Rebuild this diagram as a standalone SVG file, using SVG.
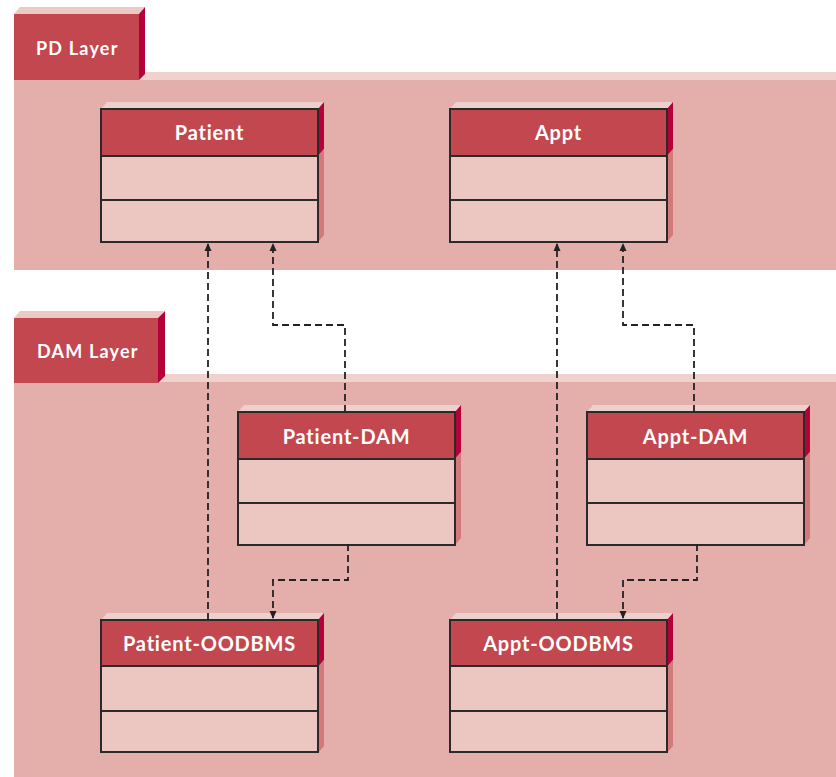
<svg xmlns="http://www.w3.org/2000/svg" width="836" height="777" viewBox="0 0 836 777">
  <defs>
    <style>
      .band { fill: #e4afab; }
      .bandTop { fill: #efd2ce; }
      .tab { fill: #c2474f; }
      .tabSide { fill: #b5003a; }
      .tabTop { fill: #edc9c5; }
      .hdr { fill: #c2474f; stroke: #2a2a2a; stroke-width: 2; }
      .cmp { fill: #ecc6c1; stroke: #2a2a2a; stroke-width: 2; }
      .boxTop { fill: #edd0cc; }
      .sideHdr { fill: #b5003a; }
      .sideBody { fill: #d4797a; }
      .lbl { font-family: Lato, "Open Sans", "Liberation Sans", sans-serif; font-weight: bold; fill: #ffffff; text-anchor: middle; }
      .lyr { font-size: 18px; letter-spacing: 1.2px; text-anchor: start; }
      .cls { font-size: 20px; letter-spacing: 0.8px; }
      .dep { fill: none; stroke: #222222; stroke-width: 1.8; stroke-dasharray: 7 4; }
    </style>
    <marker id="arrow" viewBox="0 0 8 8" refX="7" refY="4" markerWidth="8" markerHeight="8" markerUnits="userSpaceOnUse" orient="auto">
      <path d="M0,0.5 L8,4 L0,7.5 z" fill="#222222"/>
    </marker>
  </defs>

  <rect width="836" height="777" fill="#ffffff"/>

  <!-- PD layer package -->
  <g id="pd-layer">
    <polygon class="bandTop" points="14,80 22,72 836,72 836,80"/>
    <rect class="band" x="14" y="80" width="822" height="190"/>
    <polygon class="tabTop" points="14,14 20,7 145,7 139,14"/>
    <polygon class="tabSide" points="139,14 145,7 145,74 139,80"/>
    <rect class="tab" x="14" y="14" width="125" height="66"/>
    <text class="lbl lyr" x="36" y="55">PD Layer</text>
  </g>

  <!-- DAM layer package -->
  <g id="dam-layer">
    <polygon class="bandTop" points="14,382 22,374 836,374 836,382"/>
    <rect class="band" x="14" y="382" width="822" height="395"/>
    <polygon class="tabTop" points="14,318 20,311 164,311 158,318"/>
    <polygon class="tabSide" points="158,318 165,311 165,376 158,383"/>
    <rect class="tab" x="14" y="318" width="144" height="65"/>
    <text class="lbl lyr" x="37" y="358">DAM Layer</text>
  </g>

  <!-- Class boxes: 217 x 133, header 47, divider at 91 -->
  <g id="patient" transform="translate(101,109)">
    <polygon class="boxTop" points="0,0 6,-7 223,-7 217,0"/>
    <polygon class="sideHdr" points="217,0 223,-7 223,40 217,47"/>
    <polygon class="sideBody" points="217,47 223,40 223,126 217,133"/>
    <rect class="cmp" x="0" y="47" width="217" height="86"/>
    <line x1="0" y1="91" x2="217" y2="91" stroke="#2a2a2a" stroke-width="2"/>
    <rect class="hdr" x="0" y="0" width="217" height="47"/>
    <text class="lbl cls" x="108.5" y="31">Patient</text>
  </g>

  <g id="appt" transform="translate(450,109)">
    <polygon class="boxTop" points="0,0 6,-7 223,-7 217,0"/>
    <polygon class="sideHdr" points="217,0 223,-7 223,40 217,47"/>
    <polygon class="sideBody" points="217,47 223,40 223,126 217,133"/>
    <rect class="cmp" x="0" y="47" width="217" height="86"/>
    <line x1="0" y1="91" x2="217" y2="91" stroke="#2a2a2a" stroke-width="2"/>
    <rect class="hdr" x="0" y="0" width="217" height="47"/>
    <text class="lbl cls" x="108.5" y="31">Appt</text>
  </g>

  <g id="patient-dam" transform="translate(238,412)">
    <polygon class="boxTop" points="0,0 6,-7 223,-7 217,0"/>
    <polygon class="sideHdr" points="217,0 223,-7 223,40 217,47"/>
    <polygon class="sideBody" points="217,47 223,40 223,126 217,133"/>
    <rect class="cmp" x="0" y="47" width="217" height="86"/>
    <line x1="0" y1="91" x2="217" y2="91" stroke="#2a2a2a" stroke-width="2"/>
    <rect class="hdr" x="0" y="0" width="217" height="47"/>
    <text class="lbl cls" x="108.5" y="32">Patient-DAM</text>
  </g>

  <g id="appt-dam" transform="translate(587,412)">
    <polygon class="boxTop" points="0,0 6,-7 223,-7 217,0"/>
    <polygon class="sideHdr" points="217,0 223,-7 223,40 217,47"/>
    <polygon class="sideBody" points="217,47 223,40 223,126 217,133"/>
    <rect class="cmp" x="0" y="47" width="217" height="86"/>
    <line x1="0" y1="91" x2="217" y2="91" stroke="#2a2a2a" stroke-width="2"/>
    <rect class="hdr" x="0" y="0" width="217" height="47"/>
    <text class="lbl cls" x="108.5" y="32">Appt-DAM</text>
  </g>

  <g id="patient-oodbms" transform="translate(101,620)">
    <polygon class="boxTop" points="0,0 6,-7 223,-7 217,0"/>
    <polygon class="sideHdr" points="217,0 223,-7 223,40 217,47"/>
    <polygon class="sideBody" points="217,47 223,40 223,126 217,133"/>
    <rect class="cmp" x="0" y="46" width="217" height="86"/>
    <line x1="0" y1="91" x2="217" y2="91" stroke="#2a2a2a" stroke-width="2"/>
    <rect class="hdr" x="0" y="0" width="217" height="46"/>
    <text class="lbl cls" x="108.5" y="31">Patient-OODBMS</text>
  </g>

  <g id="appt-oodbms" transform="translate(450,620)">
    <polygon class="boxTop" points="0,0 6,-7 223,-7 217,0"/>
    <polygon class="sideHdr" points="217,0 223,-7 223,40 217,47"/>
    <polygon class="sideBody" points="217,47 223,40 223,126 217,133"/>
    <rect class="cmp" x="0" y="46" width="217" height="86"/>
    <line x1="0" y1="91" x2="217" y2="91" stroke="#2a2a2a" stroke-width="2"/>
    <rect class="hdr" x="0" y="0" width="217" height="46"/>
    <text class="lbl cls" x="108.5" y="31">Appt-OODBMS</text>
  </g>

  <!-- Dependencies (dashed, open end at source, arrow at target) -->
  <g id="connectors">
    <path class="dep" d="M208,620 V244" marker-end="url(#arrow)"/>
    <path class="dep" d="M345,412 V325 H273 V244" marker-end="url(#arrow)"/>
    <path class="dep" d="M348,544 V580 H273 V618" marker-end="url(#arrow)"/>
    <path class="dep" d="M557,620 V244" marker-end="url(#arrow)"/>
    <path class="dep" d="M694,412 V325 H623 V244" marker-end="url(#arrow)"/>
    <path class="dep" d="M697,544 V580 H623 V618" marker-end="url(#arrow)"/>
  </g>
</svg>
